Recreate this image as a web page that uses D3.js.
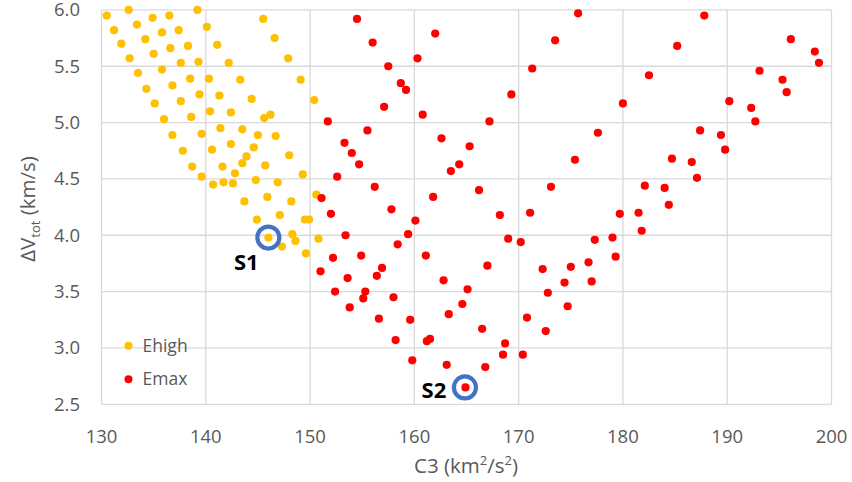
<!DOCTYPE html>
<html>
<head>
<meta charset="utf-8">
<script src="https://cdn.jsdelivr.net/npm/d3@7/dist/d3.min.js"></script>
<style>
  body { margin: 0; background: #fff; }
  text { font-family: "Open Sans", "Liberation Sans", sans-serif; }
</style>
</head>
<body>
<svg></svg>
<script>
const width = 852;
const height = 482;

// Ehigh series (C3, dV)
const ehighC3 = [130.5,132.6,134.9,136.5,139.2,145.5,131.2,133.4,135.8,137.4,140.1,146.6,131.9,134.2,136.6,138.3,141.1,147.9,
  132.7,135.0,137.6,139.3,142.2,149.1,133.5,135.8,138.5,140.3,143.3,150.4,134.3,136.8,139.4,141.3,144.4,135.1,137.6,140.4,
  142.4,145.6,146.2,136.0,138.6,136.8,139.6,141.4,143.5,145.0,146.7,137.8,140.6,142.4,144.6,148.0,143.9,138.7,141.6,143.5,
  145.7,142.8,139.6,149.3,140.7,141.7,142.6,144.8,146.9,150.6,143.7,145.9,148.2,144.9,147.1,149.5,149.9,146.0,148.3,148.6,
  150.8,147.3,149.6];
const ehighDv = [5.95,6.00,5.93,5.95,6.00,5.92,5.82,5.87,5.80,5.82,5.85,5.75,5.70,5.74,5.66,5.68,5.69,5.57,
  5.57,5.61,5.53,5.54,5.53,5.38,5.44,5.47,5.39,5.39,5.38,5.20,5.30,5.33,5.25,5.24,5.21,5.17,5.19,5.10,
  5.09,5.04,5.07,5.03,5.05,4.89,4.90,4.95,4.94,4.89,4.88,4.75,4.76,4.81,4.78,4.71,4.70,4.61,4.61,4.64,
  4.62,4.55,4.52,4.54,4.45,4.47,4.46,4.49,4.47,4.36,4.30,4.34,4.30,4.14,4.18,4.14,4.14,3.98,4.01,3.95,
  3.97,3.90,3.84];

// Emax series (C3, dV)
const emaxC3 = [154.5,156.0,162.0,160.3,157.5,158.7,159.2,157.1,160.8,167.2,151.7,155.5,153.3,162.6,154.0,154.7,165.3,164.3,
  163.5,152.6,156.2,151.1,161.8,166.2,152.0,157.8,160.1,159.4,153.4,158.4,152.2,154.9,161.1,167.0,156.9,151.0,153.6,156.4,
  162.8,165.1,152.4,155.3,155.1,158.0,153.8,164.6,163.3,156.6,159.6,166.5,158.2,161.2,161.5,159.8,163.1,166.8,164.9,
  175.7,173.5,185.2,171.3,182.5,169.3,180.0,177.6,175.4,184.7,173.1,182.1,184.0,184.4,168.2,171.1,179.7,181.5,181.8,
  169.0,170.2,177.3,179.0,179.3,172.3,175.0,176.7,174.4,177.0,172.8,174.7,170.8,172.6,168.7,168.5,170.4,
  187.8,196.1,198.4,198.8,193.1,195.3,195.7,190.2,192.3,192.7,187.4,189.4,189.8,186.6,187.1];
const emaxDv = [5.92,5.71,5.79,5.57,5.50,5.35,5.29,5.14,5.07,5.01,5.01,4.93,4.82,4.86,4.73,4.63,4.79,4.63,
  4.57,4.52,4.43,4.33,4.34,4.40,4.19,4.23,4.13,4.01,4.00,3.92,3.80,3.82,3.82,3.73,3.71,3.68,3.62,3.64,
  3.60,3.52,3.50,3.50,3.44,3.45,3.36,3.39,3.30,3.26,3.25,3.17,3.07,3.06,3.08,2.89,2.85,2.83,2.65,
  5.97,5.73,5.68,5.48,5.42,5.25,5.17,4.91,4.67,4.68,4.43,4.44,4.42,4.27,4.18,4.20,4.19,4.20,4.04,
  3.97,3.94,3.96,3.98,3.81,3.70,3.72,3.76,3.58,3.59,3.49,3.37,3.27,3.15,3.04,2.94,2.94,
  5.95,5.74,5.63,5.53,5.46,5.38,5.27,5.19,5.13,5.01,4.93,4.89,4.76,4.65,4.51];

const xTicks = [130,140,150,160,170,180,190,200];
const yTicks = [2.5,3.0,3.5,4.0,4.5,5.0,5.5,6.0];

// highlighted solutions
const markNames = ['S1','S2'];
const markC3 = [146.0,164.85];
const markDv = [3.98,2.65];

const svg = d3.select('svg').attr('width', width).attr('height', height);

const x = d3.scaleLinear().domain([130,200]).range([101.5,831.5]);
const y = d3.scaleLinear().domain([2.5,6.0]).range([404.3,9.9]);

// grid
svg.append('g').selectAll('line').data(xTicks).enter().append('line')
  .attr('x1', d => x(d)).attr('x2', d => x(d))
  .attr('y1', y(6.0)).attr('y2', y(2.5))
  .attr('stroke', '#d9d9d9').attr('stroke-width', 1.3);
svg.append('g').selectAll('line').data(yTicks).enter().append('line')
  .attr('x1', x(130)).attr('x2', x(200))
  .attr('y1', d => y(d)).attr('y2', d => y(d))
  .attr('stroke', '#d9d9d9').attr('stroke-width', 1.3);

// tick labels
svg.append('g').selectAll('text').data(xTicks).enter().append('text')
  .attr('x', d => x(d)).attr('y', 443)
  .attr('text-anchor', 'middle')
  .attr('font-size', 18.5).attr('fill', '#595959')
  .text(d => d);
svg.append('g').selectAll('text').data(yTicks).enter().append('text')
  .attr('x', 80).attr('y', d => y(d) + 6.5)
  .attr('text-anchor', 'end')
  .attr('font-size', 18.5).attr('fill', '#595959')
  .text(d => d.toFixed(1));

// axis titles
const xt = svg.append('text')
  .attr('x', 466).attr('y', 473)
  .attr('text-anchor', 'middle')
  .attr('font-size', 20.5).attr('fill', '#595959');
xt.append('tspan').text('C3 (km');
xt.append('tspan').attr('dy', -8).attr('font-size', 13).text('2');
xt.append('tspan').attr('dy', 8).text('/s');
xt.append('tspan').attr('dy', -8).attr('font-size', 13).text('2');
xt.append('tspan').attr('dy', 8).text(')');

const yt = svg.append('text')
  .attr('transform', 'translate(35,' + 209 + ') rotate(-90)')
  .attr('text-anchor', 'middle')
  .attr('font-size', 20.5).attr('fill', '#595959');
yt.append('tspan').text('ΔV');
yt.append('tspan').attr('dy', 5).attr('font-size', 13).text('tot');
yt.append('tspan').attr('dy', -5).text(' (km/s)');

// points
svg.append('g').selectAll('circle').data(d3.range(ehighC3.length)).enter().append('circle')
  .attr('cx', i => x(ehighC3[i])).attr('cy', i => y(ehighDv[i]))
  .attr('r', 4.1).attr('fill', '#ffc000');
svg.append('g').selectAll('circle').data(d3.range(emaxC3.length)).enter().append('circle')
  .attr('cx', i => x(emaxC3[i])).attr('cy', i => y(emaxDv[i]))
  .attr('r', 4.1).attr('fill', '#ff0000');

// highlight rings and labels
svg.append('g').selectAll('circle').data(markNames).enter().append('circle')
  .attr('cx', (d, i) => x(markC3[i])).attr('cy', (d, i) => y(markDv[i]))
  .attr('r', 11).attr('fill', 'none')
  .attr('stroke', '#4472c4').attr('stroke-width', 4.2);
svg.append('g').selectAll('text').data(markNames).enter().append('text')
  .attr('x', (d, i) => x(markC3[i]) - (i === 0 ? 22 : 31))
  .attr('y', (d, i) => y(markDv[i]) + (i === 0 ? 32 : 11))
  .attr('text-anchor', 'middle')
  .attr('font-size', 22).attr('font-weight', 'bold').attr('fill', '#000')
  .text(d => d);

// legend
const legend = [['Ehigh','#ffc000'],['Emax','#ff0000']];
const lg = svg.append('g').selectAll('g').data(legend).enter().append('g')
  .attr('transform', (d, i) => 'translate(128.5,' + (345.7 + i * 33.6) + ')');
lg.append('circle').attr('r', 4).attr('fill', d => d[1]);
lg.append('text').attr('x', 14).attr('y', 6)
  .attr('font-size', 17.5).attr('fill', '#595959')
  .text(d => d[0]);
</script>
</body>
</html>
